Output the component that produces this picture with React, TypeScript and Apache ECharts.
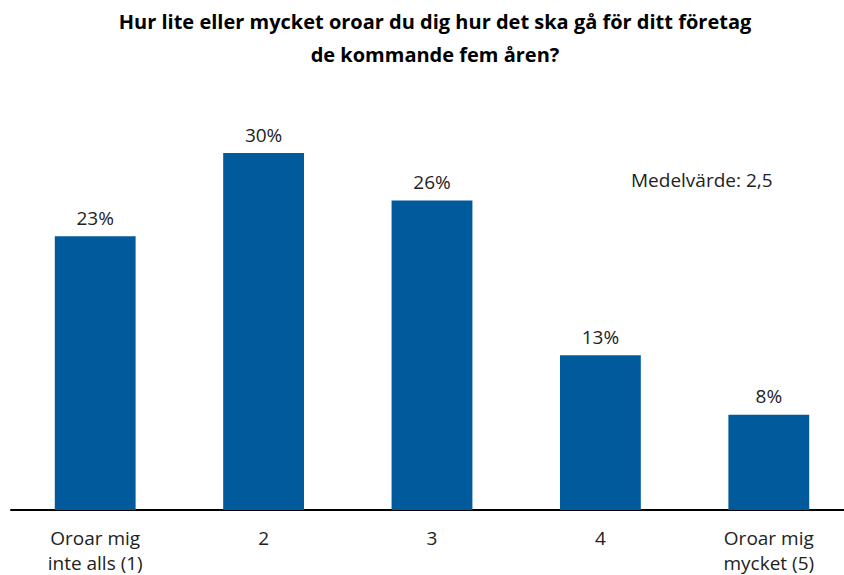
import React, { useEffect, useRef } from "react";
import * as echarts from "echarts";

const categories = ["Oroar mig\ninte alls (1)", "2", "3", "4", "Oroar mig\nmycket (5)"];
const values = [23, 30, 26, 13, 8];
const titleLines = ["Hur lite eller mycket oroar du dig hur det ska gå för ditt företag", "de kommande fem åren?"];
const meanText = "Medelvärde: 2,5";

const FONT = "'Open Sans', 'Noto Sans', sans-serif";

export default function App() {
  const ref = useRef<HTMLDivElement>(null);
  useEffect(() => {
    const chart = echarts.init(ref.current!, null, { renderer: "svg" });
    chart.setOption({
      animation: false,
      backgroundColor: "#ffffff",
      grid: { left: 11, right: 0, top: 153, bottom: 60, containLabel: false },
      xAxis: {
        type: "category",
        data: categories,
        axisLine: { show: true, lineStyle: { color: "#000", width: 2 } },
        axisTick: { show: false },
        axisLabel: {
          color: "#222",
          fontFamily: FONT,
          fontSize: 19,
          lineHeight: 25,
          margin: 15,
          interval: 0,
        },
      },
      yAxis: {
        type: "value",
        min: 0,
        max: 30,
        show: false,
        splitLine: { show: false },
      },
      series: [
        {
          type: "bar",
          data: values,
          barWidth: "48%",
          itemStyle: { color: "#005A9C" },
          label: {
            show: true,
            position: "top",
            distance: 9,
            formatter: "{c}%",
            color: "#222",
            fontFamily: FONT,
            fontSize: 19,
          },
        },
      ],
      graphic: [
        {
          type: "text",
          x: 435,
          y: 5,
          style: {
            text: titleLines.join("\n"),
            textAlign: "center",
            fill: "#000",
            font: `bold 20px ${FONT}`,
            lineHeight: 33,
          },
        },
        {
          type: "text",
          x: 631,
          y: 170,
          style: {
            text: meanText,
            fill: "#222",
            font: `19px ${FONT}`,
          },
        },
      ],
    });
    return () => chart.dispose();
  }, []);
  return (
    <div style={{ position: "absolute", left: 0, top: 0, width: 844, height: 575, overflow: "hidden", background: "#fff" }}>
      <div ref={ref} style={{ width: 853, height: 575 }} />
    </div>
  );
}
